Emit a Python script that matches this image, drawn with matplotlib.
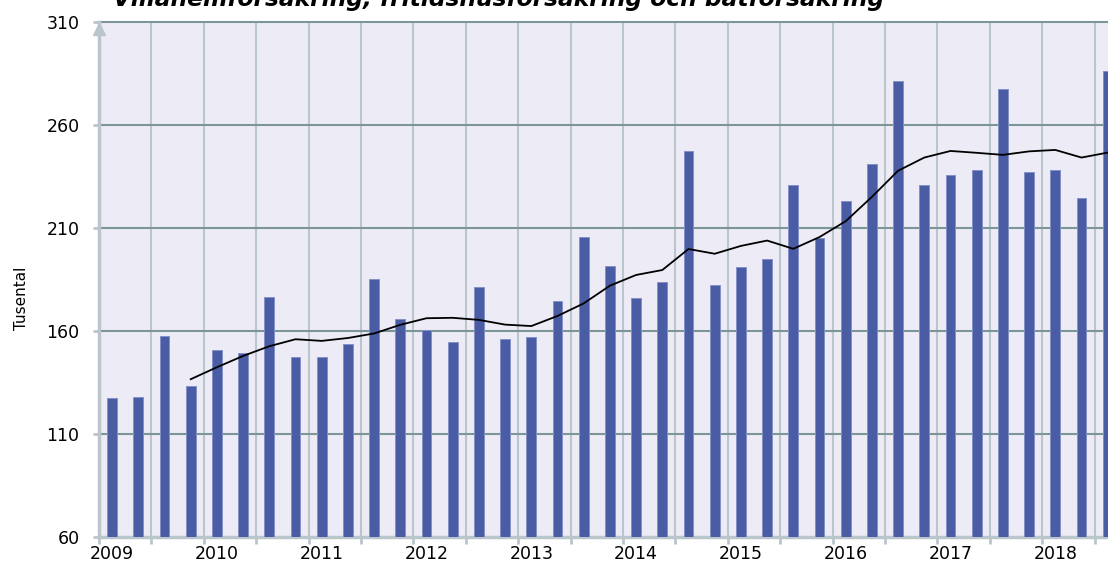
import matplotlib
matplotlib.use("Agg")
import matplotlib.pyplot as plt
import numpy as np

plt.rcParams['font.family'] = ['DejaVu Sans']

title = "Villahemförsäkring, fritidshusförsäkring och båtförsäkring"
ylabel = "Tusental"
years = ["2009", "2010", "2011", "2012", "2013", "2014", "2015", "2016", "2017", "2018"]

# Quarterly values 2009Q1 .. 2018Q3 (thousands)
bars = [127.3, 128.1, 157.7, 133.5,
        150.8, 149.2, 176.7, 147.5,
        147.5, 153.8, 185.2, 165.7,
        160.3, 154.7, 181.4, 156.3,
        157.1, 174.4, 205.8, 191.6,
        175.9, 183.6, 247.4, 182.2,
        190.9, 194.8, 230.9, 205.0,
        223.1, 241.2, 281.4, 230.9,
        235.7, 238.2, 277.3, 237.2,
        238.2, 224.7, 286.1]

# Four-quarter moving average line, starting at 2009Q4
avg_start = 3
avg_line = [136.6, 142.4, 147.9, 152.6, 156.0,
            155.2, 156.6, 158.8, 163.0,
            166.2, 166.4, 165.4, 163.1,
            162.4, 167.3, 173.4, 182.0,
            187.2, 189.6, 199.8, 197.5,
            201.3, 203.9, 199.9, 205.6,
            213.3, 225.1, 237.8, 244.2,
            247.4, 246.5, 245.5, 247.2,
            247.9, 244.2, 246.6]

yticks = [60, 110, 160, 210, 260, 310]

W, H = 1108, 565
fig = plt.figure(figsize=(W / 100, H / 100), dpi=100)
fig.patch.set_facecolor('white')

n_slots = len(bars)
slot_px = 26.2
left_px, bottom_px, top_px = 99, 537, 22
ax = fig.add_axes([left_px / W, (H - bottom_px) / H,
                   n_slots * slot_px / W, (bottom_px - top_px) / H])
ax.set_facecolor('#edecf6')

x = np.arange(n_slots)
ax.bar(x, bars, width=0.38, color='#4a5ca3', edgecolor='#8391c8',
       linewidth=0.7, zorder=3)
xl = np.arange(avg_start, avg_start + len(avg_line))
ax.plot(xl, avg_line, color='black', linewidth=1.3, zorder=4)

ax.set_xlim(-0.5, n_slots - 0.5)
ax.set_ylim(60, 310)

# grid
grid_x = np.arange(-0.5, n_slots, 2)
for gx in grid_x[1:]:
    ax.axvline(gx, color='#bac6cb', linewidth=1.5, zorder=1)
for gy in yticks[1:]:
    ax.axhline(gy, color='#7c9599', linewidth=1.5, zorder=2, clip_on=False)

for s in ['top', 'right']:
    ax.spines[s].set_visible(False)
ax.spines['left'].set_color('#bac6cb')
ax.spines['left'].set_linewidth(2.5)
ax.spines['bottom'].set_color('#bac6cb')
ax.spines['bottom'].set_linewidth(2.5)
ax.spines['left'].set_zorder(5)

# arrow at top of y axis
ax.plot([-0.5], [306.5], marker='^', markersize=9, color='#bac6cb',
        clip_on=False, zorder=6)

ax.set_yticks(yticks)
ax.set_yticklabels([str(v) for v in yticks])
ax.tick_params(axis='y', length=4, width=2, color='#bac6cb', pad=10,
               labelsize=12.5, labelcolor='black')

ax.set_xticks(grid_x)
ax.set_xticklabels([])
ax.tick_params(axis='x', which='major', length=5, width=2, color='#bac6cb')
ax.set_xticks(np.arange(0, n_slots, 4), minor=True)
ax.set_xticklabels(years, minor=True)
ax.tick_params(axis='x', which='minor', length=0, pad=6, labelsize=12.5,
               labelcolor='black')

fig.text(22 / W, 1 - 298 / H, ylabel, rotation=90, ha='center', va='center',
         fontsize=11)
fig.text(113 / W, 1 - 6 / H, title, ha='left', va='baseline',
         fontsize=16.8, fontweight='bold', fontstyle='italic')

fig.savefig('out.png', dpi=100)
